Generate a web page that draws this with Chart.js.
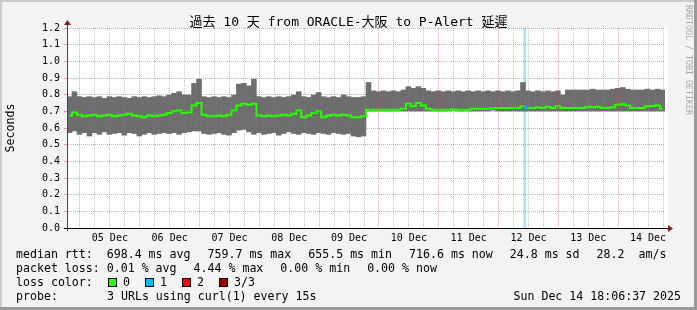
<!DOCTYPE html>
<html>
<head>
<meta charset="utf-8">
<script src="https://cdn.jsdelivr.net/npm/chart.js@4.4.1/dist/chart.umd.min.js"></script>
<style>
  html, body { margin: 0; padding: 0; background: #f3f3f3; }
  canvas { display: block; }
</style>
</head>
<body>
<canvas id="smoke" width="697" height="310"></canvas>
<script>
const title = '過去 10 天 from ORACLE-大阪 to P-Alert 延遲';
const dayLabels = ['05 Dec', '06 Dec', '07 Dec', '08 Dec', '09 Dec', '10 Dec', '11 Dec', '12 Dec', '13 Dec', '14 Dec'];

// hours counted from 05 Dec 00:00, one value per 2h bin
const firstBin = -4.2;
const binHours = 2;

const smokeHigh = [
  0.79, 0.82, 0.79, 0.785, 0.79, 0.785, 0.79, 0.78, 0.79, 0.785,
  0.79, 0.785, 0.78, 0.79, 0.785, 0.79, 0.785, 0.79, 0.795, 0.79,
  0.80, 0.81, 0.82, 0.80, 0.80, 0.87, 0.895, 0.79, 0.785, 0.79,
  0.785, 0.79, 0.785, 0.80, 0.865, 0.87, 0.855, 0.895, 0.79, 0.785,
  0.79, 0.785, 0.79, 0.785, 0.79, 0.80, 0.82, 0.79, 0.785, 0.80,
  0.815, 0.79, 0.785, 0.79, 0.785, 0.80, 0.79, 0.785, 0.785, 0.79,
  0.875, 0.825, 0.82, 0.825, 0.82, 0.825, 0.82, 0.83, 0.85, 0.84,
  0.85, 0.84, 0.825, 0.82, 0.825, 0.82, 0.825, 0.82, 0.825, 0.82,
  0.825, 0.82, 0.825, 0.82, 0.825, 0.82, 0.825, 0.82, 0.825, 0.82,
  0.825, 0.875, 0.825, 0.82, 0.825, 0.82, 0.825, 0.82, 0.825, 0.80,
  0.83, 0.83, 0.83, 0.83, 0.83, 0.835, 0.83, 0.83, 0.83, 0.835,
  0.84, 0.845, 0.835, 0.83, 0.83, 0.83, 0.835, 0.83, 0.835, 0.83
];
const smokeLow = [
  0.57, 0.58, 0.56, 0.57, 0.55, 0.57, 0.56, 0.575, 0.56, 0.565,
  0.57, 0.555, 0.57, 0.565, 0.55, 0.56, 0.57, 0.56, 0.565, 0.57,
  0.565, 0.57, 0.56, 0.57, 0.575, 0.58, 0.58, 0.565, 0.56, 0.565,
  0.57, 0.56, 0.555, 0.57, 0.585, 0.59, 0.575, 0.56, 0.57, 0.56,
  0.565, 0.57, 0.555, 0.565, 0.575, 0.565, 0.56, 0.57, 0.565, 0.56,
  0.57, 0.565, 0.56, 0.57, 0.565, 0.56, 0.565, 0.55, 0.545, 0.55,
  0.70, 0.70, 0.70, 0.70, 0.70, 0.70, 0.70, 0.70, 0.70, 0.70,
  0.70, 0.70, 0.70, 0.70, 0.70, 0.70, 0.70, 0.705, 0.70, 0.70,
  0.70, 0.70, 0.70, 0.70, 0.70, 0.705, 0.70, 0.70, 0.70, 0.70,
  0.70, 0.70, 0.70, 0.70, 0.70, 0.70, 0.70, 0.70, 0.70, 0.70,
  0.70, 0.70, 0.70, 0.70, 0.70, 0.70, 0.70, 0.70, 0.70, 0.70,
  0.70, 0.70, 0.70, 0.70, 0.70, 0.70, 0.70, 0.70, 0.70, 0.70
];
const median = [
  0.675, 0.695, 0.68, 0.67, 0.675, 0.68, 0.67, 0.675, 0.68, 0.67,
  0.675, 0.68, 0.685, 0.675, 0.67, 0.665, 0.675, 0.67, 0.675, 0.68,
  0.69, 0.70, 0.705, 0.69, 0.695, 0.735, 0.75, 0.68, 0.67, 0.67,
  0.675, 0.67, 0.68, 0.705, 0.735, 0.745, 0.74, 0.745, 0.675, 0.67,
  0.675, 0.67, 0.675, 0.68, 0.675, 0.685, 0.705, 0.665, 0.675, 0.69,
  0.70, 0.665, 0.675, 0.68, 0.675, 0.68, 0.675, 0.665, 0.665, 0.67,
  0.71, 0.71, 0.71, 0.71, 0.71, 0.71, 0.71, 0.715, 0.745, 0.73,
  0.75, 0.735, 0.715, 0.71, 0.71, 0.71, 0.71, 0.712, 0.71, 0.71,
  0.71, 0.715, 0.715, 0.715, 0.715, 0.718, 0.72, 0.72, 0.72, 0.72,
  0.72, 0.73, 0.72, 0.72, 0.725, 0.72, 0.728, 0.72, 0.73, 0.72,
  0.72, 0.72, 0.72, 0.72, 0.728, 0.725, 0.728, 0.72, 0.72, 0.725,
  0.74, 0.742, 0.735, 0.72, 0.72, 0.72, 0.73, 0.732, 0.735, 0.715
];

// loss events (hour, lost pings)
const lossTimes = [178.5];
const lossCounts = [1];

const lossColors = ['#26ff00', '#00b8ff', '#ff0000', '#990000'];
const lossLabels = ['0', '1', '2', '3/3'];

const rttLegend = ['median rtt:  698.4 ms avg', '759.7 ms max', '655.5 ms min', '716.6 ms now', '24.8 ms sd', '28.2  am/s'];
const lossLegend = ['packet loss: 0.01 % avg', '4.44 % max', '0.00 % min', '0.00 % now'];
const probeText = '3 URLs using curl(1) every 15s';
const stampText = 'Sun Dec 14 18:06:37 2025';

const MONO = '"DejaVu Sans Mono", "Noto Sans CJK JP", monospace';
const MGRID = 'rgba(222,48,48,0.45)';
const GRID = 'rgba(130,130,130,0.5)';

const binTime = i => firstBin + i * binHours;
const lossAtBin = i => {
  for (let k = 0; k < lossTimes.length; k++) {
    if (Math.floor((lossTimes[k] - firstBin + binHours / 2) / binHours) === i) return lossCounts[k];
  }
  return 0;
};

const gridHours = [];
for (let h = 0; h <= 234; h += 6) gridHours.push(h);

const rrdLook = {
  id: 'rrdLook',
  beforeDraw(chart) {
    const ctx = chart.ctx, a = chart.chartArea;
    ctx.save();
    ctx.fillStyle = '#f3f3f3';
    ctx.fillRect(0, 0, 697, 310);
    ctx.fillStyle = '#cbcbcb';
    ctx.fillRect(0, 0, 697, 2);
    ctx.fillRect(0, 0, 2, 310);
    ctx.fillStyle = '#999999';
    ctx.fillRect(0, 307, 697, 3);
    ctx.fillRect(694, 0, 3, 310);
    ctx.fillStyle = '#ffffff';
    ctx.fillRect(a.left, a.top, a.right - a.left + 3, a.bottom - a.top);
    ctx.restore();
  },
  afterDraw(chart) {
    const ctx = chart.ctx, a = chart.chartArea;
    ctx.save();
    // axes
    ctx.fillStyle = '#000';
    ctx.fillRect(a.left - 3, a.bottom, a.right - a.left + 8, 1);
    ctx.fillStyle = '#444';
    ctx.fillRect(a.left, a.top - 6, 1, a.bottom - a.top + 9);
    ctx.fillStyle = '#7f1f1f';
    ctx.beginPath();
    ctx.moveTo(a.right + 3, a.bottom - 3);
    ctx.lineTo(a.right + 8, a.bottom + 0.5);
    ctx.lineTo(a.right + 3, a.bottom + 4);
    ctx.fill();
    ctx.beginPath();
    ctx.moveTo(a.left - 3, a.top - 3);
    ctx.lineTo(a.left + 0.5, a.top - 8);
    ctx.lineTo(a.left + 4, a.top - 3);
    ctx.fill();

    // title
    ctx.fillStyle = '#000';
    ctx.font = '13px ' + MONO;
    ctx.textAlign = 'center';
    ctx.textBaseline = 'alphabetic';
    ctx.fillText(title, 348.5, 26);

    // legend
    ctx.font = '11.6px ' + MONO;
    ctx.textAlign = 'left';
    const placeRow = (items, y) => {
      let x = 16;
      items.forEach(s => {
        ctx.fillText(s, x, y);
        x += ctx.measureText(s).width + 17;
      });
    };
    placeRow(rttLegend, 258);
    placeRow(lossLegend, 272);
    ctx.fillText('loss color:', 16, 286);
    lossLabels.forEach((lab, i) => {
      const bx = 108 + i * 37;
      ctx.fillStyle = lossColors[i];
      ctx.fillRect(bx, 278, 8, 8);
      ctx.strokeStyle = '#000';
      ctx.lineWidth = 1;
      ctx.strokeRect(bx + 0.5, 278.5, 8, 8);
      ctx.fillStyle = '#000';
      ctx.fillText(lab, bx + 15, 286);
    });
    ctx.fillText('probe:', 16, 299.5);
    ctx.fillText(probeText, 107, 299.5);
    ctx.textAlign = 'right';
    ctx.fillText(stampText, 681, 299.5);

    // watermark
    ctx.translate(684, 5);
    ctx.rotate(Math.PI / 2);
    ctx.textAlign = 'left';
    ctx.textBaseline = 'middle';
    ctx.fillStyle = '#a8a8a8';
    ctx.font = '8.3px ' + MONO;
    ctx.fillText('RRDTOOL / TOBI OETIKER', 0, -4);
    ctx.restore();
  }
};

new Chart(document.getElementById('smoke'), {
  data: {
    datasets: [
      {
        type: 'line',
        label: 'median',
        order: 1,
        data: median.map((v, i) => ({ x: binTime(i), y: v })),
        borderColor: lossColors[0],
        borderWidth: 2,
        pointRadius: 0,
        stepped: 'middle',
        segment: {
          borderColor: c => lossColors[lossAtBin(c.p0DataIndex)]
        }
      },
      {
        type: 'bar',
        label: 'smoke',
        order: 2,
        grouped: false,
        data: smokeHigh.map((h, i) => ({ x: binTime(i), y: [smokeLow[i], h] })),
        backgroundColor: '#6e6e6e',
        borderWidth: 0,
        barPercentage: 1.12,
        categoryPercentage: 1
      },
      {
        type: 'bar',
        label: 'loss',
        order: 3,
        grouped: false,
        xAxisID: 'xl',
        data: lossTimes.map(t => ({ x: t, y: [0, 1.2] })),
        backgroundColor: lossTimes.map((t, k) => lossColors[lossCounts[k]] + '5c'),
        borderWidth: 0,
        barThickness: 2
      }
    ]
  },
  options: {
    responsive: false,
    animation: false,
    devicePixelRatio: 1,
    layout: { padding: { left: 0, right: 32, top: 28, bottom: 62 } },
    plugins: { legend: { display: false }, tooltip: { enabled: false } },
    scales: {
      x: {
        type: 'linear',
        min: -5.2,
        max: 234.8,
        offset: false,
        afterBuildTicks: s => { s.ticks = gridHours.map(v => ({ value: v })); },
        afterFit: s => { s.height = 20; },
        ticks: {
          autoSkip: false,
          maxRotation: 0,
          padding: 4,
          color: '#000',
          font: { family: MONO, size: 10 },
          callback: v => (v % 24 === 12 ? dayLabels[(v - 12) / 24] : '')
        },
        grid: {
          z: 1,
          offset: false,
          drawTicks: false,
          lineWidth: 1,
          color: c => (c.tick && c.tick.value % 24 === 0 ? MGRID : GRID)
        },
        border: { display: false, dash: [1, 1] }
      },
      xl: {
        type: 'linear',
        display: false,
        offset: false,
        grid: { offset: false },
        min: -5.2,
        max: 234.8
      },
      y: {
        min: 0,
        max: 1.2,
        afterFit: s => { s.width = 67; },
        ticks: {
          stepSize: 0.1,
          padding: 4,
          color: '#000',
          font: { family: MONO, size: 10 },
          callback: v => v.toFixed(1)
        },
        grid: {
          z: 1,
          lineWidth: 1,
          color: MGRID,
          tickLength: 3,
          tickColor: MGRID,
          tickBorderDash: []
        },
        border: { display: false, dash: [1, 1] },
        title: {
          display: true,
          text: 'Seconds',
          color: '#000',
          font: { family: MONO, size: 11.6 },
          padding: { top: 4, bottom: 0 }
        }
      }
    }
  },
  plugins: [rrdLook]
});
</script>
</body>
</html>
